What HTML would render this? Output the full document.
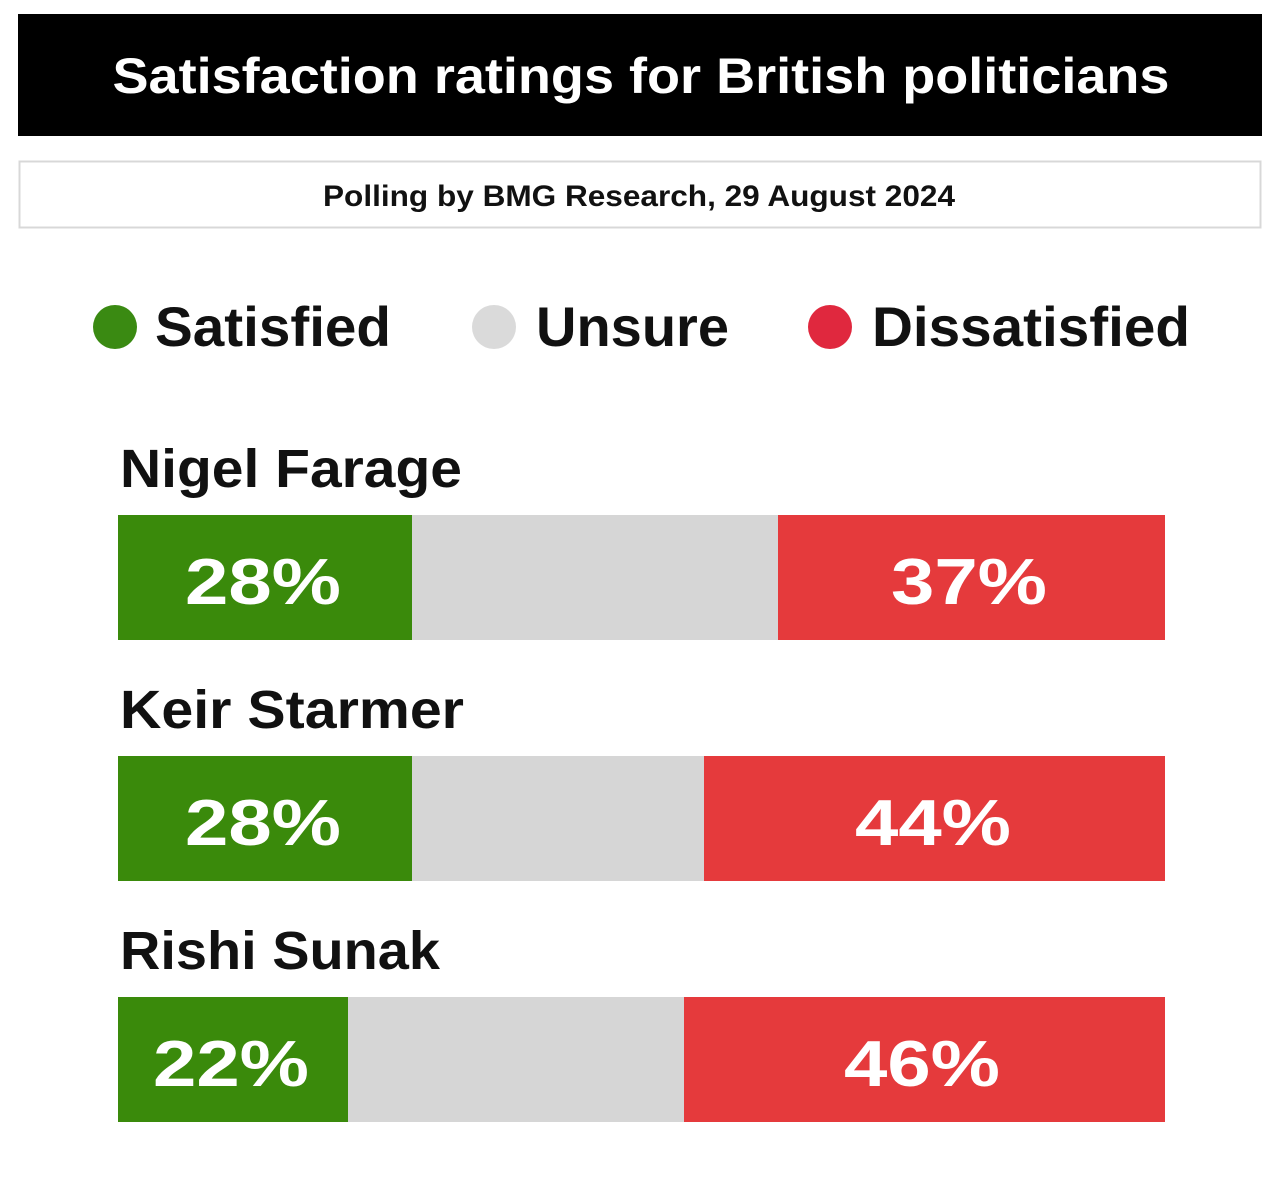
<!DOCTYPE html>
<html><head><meta charset="utf-8"><style>
html,body{margin:0;padding:0;background:#fff;}
svg{display:block;}
text{font-family:"Liberation Sans",Arial,sans-serif;font-weight:bold;}
</style></head><body>
<svg width="1280" height="1179" viewBox="0 0 1280 1179" xmlns="http://www.w3.org/2000/svg">
<rect x="0" y="0" width="1280" height="1179" fill="#fff"/>
<rect x="18" y="14" width="1244" height="122" fill="#000"/>
<text x="641" y="93" font-size="50" fill="#fff" text-anchor="middle" textLength="1057" lengthAdjust="spacingAndGlyphs">Satisfaction ratings for British politicians</text>
<rect x="19.5" y="161.5" width="1241" height="66" fill="#fff" stroke="#d8d8d8" stroke-width="2"/>
<text x="639" y="206" font-size="30" fill="#111" text-anchor="middle" textLength="632" lengthAdjust="spacingAndGlyphs">Polling by BMG Research, 29 August 2024</text>
<circle cx="115" cy="327" r="22" fill="#3a8a12"/>
<text x="155" y="346" font-size="56" fill="#111" textLength="236" lengthAdjust="spacingAndGlyphs">Satisfied</text>
<circle cx="494" cy="327" r="22" fill="#dadada"/>
<text x="536" y="346" font-size="56" fill="#111" textLength="193" lengthAdjust="spacingAndGlyphs">Unsure</text>
<circle cx="830" cy="327" r="22" fill="#e0283e"/>
<text x="872" y="346" font-size="56" fill="#111" textLength="318" lengthAdjust="spacingAndGlyphs">Dissatisfied</text>

<text x="120" y="487" font-size="54" fill="#111" textLength="342" lengthAdjust="spacingAndGlyphs">Nigel Farage</text>
<rect x="118" y="515" width="1047" height="125" fill="#d6d6d6"/>
<rect x="118" y="515" width="294" height="125" fill="#3a8a0b"/>
<rect x="778" y="515" width="387" height="125" fill="#e53a3c"/>
<text x="263" y="604" font-size="65" fill="#fff" text-anchor="middle" textLength="156" lengthAdjust="spacingAndGlyphs">28%</text>
<text x="969" y="604" font-size="65" fill="#fff" text-anchor="middle" textLength="156" lengthAdjust="spacingAndGlyphs">37%</text>

<text x="120" y="728" font-size="54" fill="#111" textLength="344" lengthAdjust="spacingAndGlyphs">Keir Starmer</text>
<rect x="118" y="756" width="1047" height="125" fill="#d6d6d6"/>
<rect x="118" y="756" width="294" height="125" fill="#3a8a0b"/>
<rect x="704" y="756" width="461" height="125" fill="#e53a3c"/>
<text x="263" y="845" font-size="65" fill="#fff" text-anchor="middle" textLength="156" lengthAdjust="spacingAndGlyphs">28%</text>
<text x="933" y="845" font-size="65" fill="#fff" text-anchor="middle" textLength="156" lengthAdjust="spacingAndGlyphs">44%</text>

<text x="120" y="969" font-size="54" fill="#111" textLength="320" lengthAdjust="spacingAndGlyphs">Rishi Sunak</text>
<rect x="118" y="997" width="1047" height="125" fill="#d6d6d6"/>
<rect x="118" y="997" width="230" height="125" fill="#3a8a0b"/>
<rect x="684" y="997" width="481" height="125" fill="#e53a3c"/>
<text x="231" y="1086" font-size="65" fill="#fff" text-anchor="middle" textLength="156" lengthAdjust="spacingAndGlyphs">22%</text>
<text x="922" y="1086" font-size="65" fill="#fff" text-anchor="middle" textLength="156" lengthAdjust="spacingAndGlyphs">46%</text>
</svg>
</body></html>
